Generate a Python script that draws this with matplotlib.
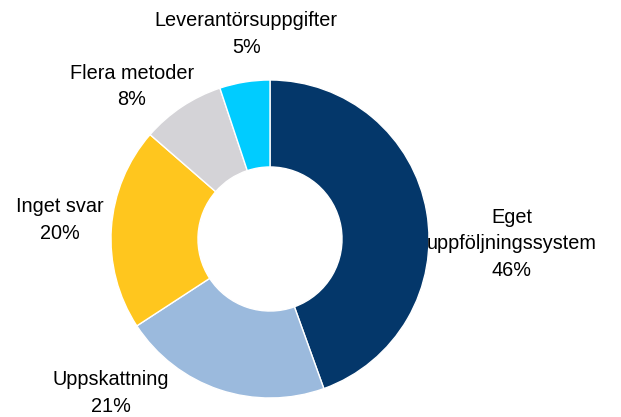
import matplotlib
matplotlib.use("Agg")
import matplotlib.pyplot as plt

# andelar (tårtbitarnas vinklar), etiketterna som de står
kategorier = ["Eget\nuppföljningssystem", "Uppskattning", "Inget svar",
              "Flera metoder", "Leverantörsuppgifter"]
andelar = [44.5, 21.3, 20.6, 8.5, 5.1]
procent = ["46%", "21%", "20%", "8%", "5%"]
farger = ["#04376A", "#9BBADD", "#FFC61E", "#D4D3D7", "#00CCFF"]

# etikettplacering (x, y) i radier från mitten
lagen = [(1.52, -0.03), (-1.0, -0.97), (-1.32, 0.12), (-0.87, 0.96), (-0.15, 1.29)]

plt.rcParams["font.family"] = ["Liberation Sans", "DejaVu Sans"]

fig = plt.figure(figsize=(6.21, 4.17), dpi=100)
ax = fig.add_axes([0, 0, 1, 1])

ax.pie(andelar, colors=farger, startangle=90, counterclock=False,
       radius=1.0, wedgeprops=dict(width=0.547, edgecolor="white", linewidth=1))

for namn, p, (x, y) in zip(kategorier, procent, lagen):
    ax.text(x, y, namn + "\n" + p, ha="center", va="center",
            fontsize=14.3, color="black", linespacing=1.5)

ax.set_aspect("equal")
ax.set_xlim(-270 / 159, (621 - 270) / 159)
ax.set_ylim(-(417 - 239) / 159, 239 / 159)
ax.axis("off")

fig.savefig("out.png", dpi=100)
